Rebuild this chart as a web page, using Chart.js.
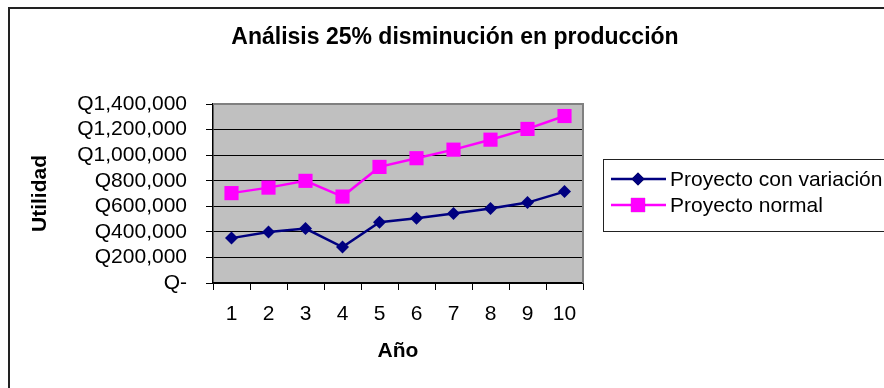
<!DOCTYPE html>
<html lang="es">
<head>
    <meta charset="UTF-8">
    <title>Análisis 25% disminución en producción</title>
    <script src="https://cdn.jsdelivr.net/npm/chart.js"></script>
    <style>
        body {
            margin: 0;
            background: white;
        }
        #lineChart {
            display: block;
        }
    </style>
</head>
<body>
    <canvas id="lineChart" width="884" height="388"></canvas>
    <script>
        // datos del gráfico
        const years = ["1", "2", "3", "4", "5", "6", "7", "8", "9", "10"];
        const proyectoConVariacion = [351000, 398000, 426000, 281000, 476000, 507000, 543000, 583000, 629000, 715000];
        const proyectoNormal = [703000, 746000, 799000, 676000, 908000, 976000, 1043000, 1121000, 1205000, 1306000];
        const yMax = 1400000;
        const yStep = 200000;

        const fontFamily = "'Liberation Sans', Arial, sans-serif";

        const formatQ = (v) => v === 0 ? "Q-" : "Q" + v.toLocaleString("en-US");

        // fondo gris, borde del área y marco exterior
        const frame = {
            id: "frame",
            beforeDraw(chart) {
                const { ctx, chartArea: a } = chart;
                ctx.save();
                ctx.fillStyle = "#c0c0c0";
                ctx.fillRect(a.left, a.top, a.right - a.left, a.bottom - a.top);
                ctx.strokeStyle = "#222";
                ctx.lineWidth = 2;
                ctx.beginPath();
                ctx.moveTo(9, 400);
                ctx.lineTo(9, 8);
                ctx.lineTo(884, 8);
                ctx.stroke();
                ctx.restore();
            },
            beforeDatasetsDraw(chart) {
                const { ctx, chartArea: a } = chart;
                ctx.save();
                ctx.strokeStyle = "#808080";
                ctx.lineWidth = 2;
                ctx.beginPath();
                ctx.moveTo(a.left, a.top);
                ctx.lineTo(a.right, a.top);
                ctx.lineTo(a.right, a.bottom);
                ctx.stroke();
                ctx.restore();
            },
            afterDraw(chart) {
                const { ctx } = chart;
                ctx.save();
                // título
                ctx.fillStyle = "#000";
                ctx.font = "bold 23px " + fontFamily;
                ctx.textAlign = "center";
                ctx.textBaseline = "middle";
                ctx.fillText("Análisis 25% disminución en producción", 455, 38);

                // leyenda
                ctx.strokeStyle = "#222";
                ctx.lineWidth = 1;
                ctx.strokeRect(603.5, 159.5, 300, 72);
                ctx.font = "21px " + fontFamily;
                ctx.textAlign = "left";
                chart.data.datasets.forEach((ds, i) => {
                    const y = 179 + i * 26;
                    ctx.strokeStyle = ds.borderColor;
                    ctx.lineWidth = ds.borderWidth;
                    ctx.beginPath();
                    ctx.moveTo(611, y);
                    ctx.lineTo(666, y);
                    ctx.stroke();
                    Chart.helpers.drawPoint(ctx, {
                        pointStyle: ds.pointStyle,
                        radius: ds.pointRadius,
                        rotation: 0,
                        borderWidth: 0
                    }, 638, y);
                    ctx.fillStyle = ds.backgroundColor;
                    ctx.fill();
                    ctx.fillStyle = "#000";
                    ctx.fillText(ds.label, 670, y + 1);
                });
                ctx.restore();
            }
        };

        new Chart(document.getElementById("lineChart").getContext("2d"), {
            type: "line",
            data: {
                labels: years,
                datasets: [{
                    label: "Proyecto con variación",
                    data: proyectoConVariacion,
                    borderColor: "#000080",
                    backgroundColor: "#000080",
                    borderWidth: 2.5,
                    pointStyle: "rectRot",
                    pointRadius: 6.5,
                    pointBorderWidth: 0,
                    tension: 0,
                }, {
                    label: "Proyecto normal",
                    data: proyectoNormal,
                    borderColor: "#ff00ff",
                    backgroundColor: "#ff00ff",
                    borderWidth: 2.5,
                    pointStyle: "rect",
                    pointRadius: 10,
                    pointBorderWidth: 0,
                    tension: 0,
                }],
            },
            options: {
                responsive: false,
                animation: false,
                layout: { padding: { left: 0, top: 104, right: 301, bottom: 0 } },
                plugins: {
                    legend: { display: false },
                    title: { display: false },
                    tooltip: { enabled: false },
                },
                scales: {
                    x: {
                        offset: true,
                        afterFit: (s) => { s.height = 105; },
                        grid: {
                            offset: true,
                            drawOnChartArea: false,
                            color: "#000",
                            tickLength: 7,
                        },
                        border: { color: "#000", width: 1.5 },
                        ticks: {
                            color: "#000",
                            padding: 12,
                            font: { family: fontFamily, size: 21 },
                        },
                        title: {
                            display: true,
                            text: "Año",
                            color: "#000",
                            padding: { top: 0, bottom: 24 },
                            font: { family: fontFamily, size: 21, weight: "bold" },
                        },
                    },
                    y: {
                        min: 0,
                        max: yMax,
                        afterFit: (s) => { s.width = 213; },
                        grid: {
                            color: "#000",
                            tickLength: 7,
                        },
                        border: { color: "#000", width: 1.5 },
                        ticks: {
                            stepSize: yStep,
                            autoSkip: false,
                            color: "#000",
                            padding: 19,
                            font: { family: fontFamily, size: 21 },
                            callback: (v) => formatQ(v),
                        },
                        title: {
                            display: true,
                            text: "Utilidad",
                            color: "#000",
                            padding: { top: 28, bottom: 0 },
                            font: { family: fontFamily, size: 21, weight: "bold" },
                        },
                    },
                },
            },
            plugins: [frame],
        });
    </script>
</body>
</html>
